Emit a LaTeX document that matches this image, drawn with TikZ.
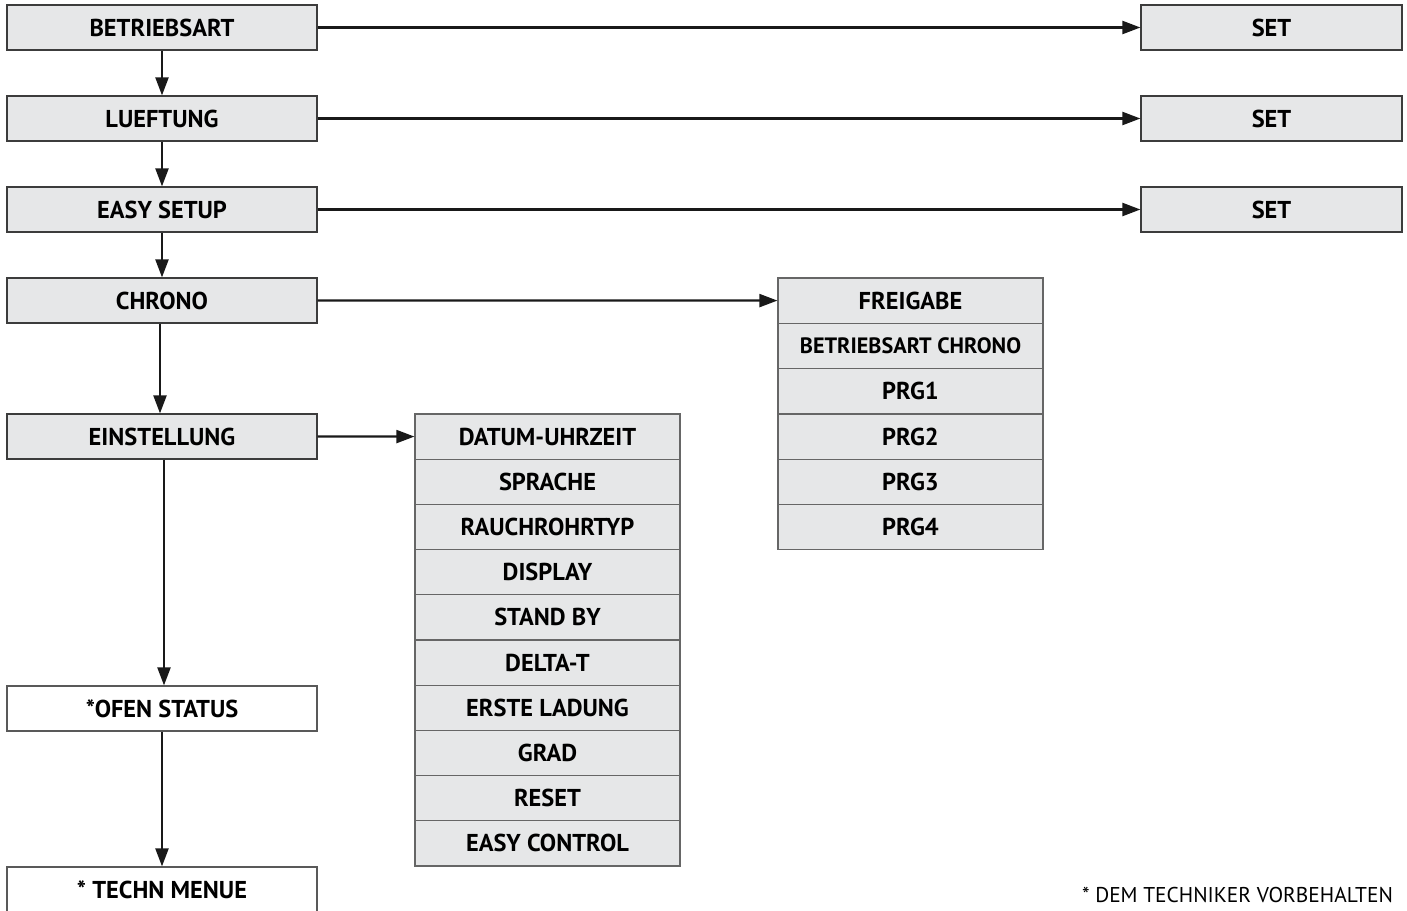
\documentclass[tikz,border=0pt]{standalone}
\usepackage{fontspec}
\setmainfont{PT Sans}
\usepackage{xcolor}
\usetikzlibrary{arrows.meta}
\definecolor{boxfill}{RGB}{230,231,232}
\definecolor{boxline}{RGB}{60,60,60}
\tikzset{
  menubox/.style={draw=boxline, line width=0.6pt, fill=boxfill, minimum width=155pt, minimum height=22.5pt, inner sep=0pt, font=\fontsize{12.2}{14}\selectfont\bfseries},
  whitebox/.style={menubox, fill=white, draw=black!65},
  setbox/.style={menubox, minimum width=130.5pt},
  listbox/.style={menubox, minimum width=132.5pt, minimum height=22.6pt, draw=black!60},
  flow/.style={line width=1.1pt, black!90, -{Triangle[length=9pt,width=6.5pt]}}
}
\begin{document}
\begin{tikzpicture}[x=0.5pt, y=-0.5pt]
  \useasboundingbox (0,0) rectangle (1407,910);

  \node[menubox] (betr) at (162,27.5) {BETRIEBSART};
  \node[menubox] (lueft) at (162,118.5) {LUEFTUNG};
  \node[menubox] (easy) at (162,209.5) {EASY SETUP};
  \node[menubox] (chrono) at (162,300.5) {CHRONO};
  \node[menubox] (einst) at (162,436.5) {EINSTELLUNG};
  \node[whitebox] (ofen) at (162,708.5) {*OFEN STATUS};
  \node[whitebox] (techn) at (162,889.5) {* TECHN MENUE};

  \node[setbox] (set1) at (1271.5,27.5) {SET};
  \node[setbox] (set2) at (1271.5,118.5) {SET};
  \node[setbox] (set3) at (1271.5,209.5) {SET};

  \foreach \txt [count=\i from 0] in {FREIGABE, {\fontsize{11.1}{13}\selectfont BETRIEBSART CHRONO}, PRG1, PRG2, PRG3, PRG4}
    \node[listbox] (chr\i) at (910.5,300.6+45.3*\i) {\txt};

  \foreach \txt [count=\i from 0] in {DATUM-UHRZEIT, SPRACHE, RAUCHROHRTYP, DISPLAY, STAND BY, DELTA-T, ERSTE LADUNG, GRAD, RESET, EASY CONTROL}
    \node[listbox] (ein\i) at (547.5,436.6+45.2*\i) {\txt};

  \node[anchor=east, font=\fontsize{10.7}{12}\selectfont] (note) at (1400,895) {* DEM TECHNIKER VORBEHALTEN};

  \draw[flow] (betr) -- (lueft);
  \draw[flow] (lueft) -- (easy);
  \draw[flow] (easy) -- (chrono);
  \draw[flow] ([xshift=-1pt]chrono.south) -- ([xshift=-1pt]einst.north);
  \draw[flow] ([xshift=1pt]einst.south) -- ([xshift=1pt]ofen.north);
  \draw[flow] (ofen) -- (techn);

  \draw[flow] (betr) -- (set1);
  \draw[flow] (lueft) -- (set2);
  \draw[flow] (easy) -- (set3);
  \draw[flow] (chrono) -- (chr0);
  \draw[flow] (einst) -- (ein0);
\end{tikzpicture}
\end{document}
